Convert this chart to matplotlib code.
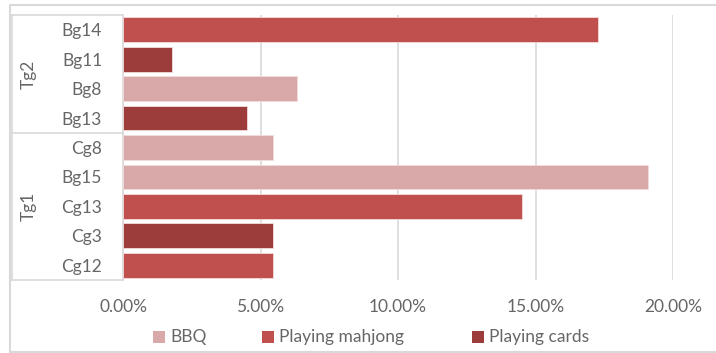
import matplotlib
matplotlib.use("Agg")
import matplotlib.pyplot as plt
from matplotlib.lines import Line2D
from matplotlib.patches import Rectangle
from matplotlib.ticker import FuncFormatter
from matplotlib.transforms import blended_transform_factory

plt.rcParams['font.family'] = ['Lato', 'DejaVu Sans']

# Rows from top to bottom
categories = ["Bg14", "Bg11", "Bg8", "Bg13", "Cg8", "Bg15", "Cg13", "Cg3", "Cg12"]
groups = ["Tg2", "Tg1"]
group_sizes = [4, 5]
activity = ["Playing mahjong", "Playing cards", "BBQ", "Playing cards", "BBQ",
            "BBQ", "Playing mahjong", "Playing cards", "Playing mahjong"]
values = [17.27, 1.78, 6.33, 4.50, 5.45, 19.09, 14.50, 5.45, 5.45]  # percent

series = ["BBQ", "Playing mahjong", "Playing cards"]
colors = {"BBQ": "#D9A8A8", "Playing mahjong": "#C0504D", "Playing cards": "#9C3D3C"}
text_color = "#666666"
grid_color = "#D9D9D9"
fs = 12.5

W, H = 716, 353
fig = plt.figure(figsize=(W / 100, H / 100), dpi=100)
x0, x1, y0, y1 = 123, 673, 15, 280
ax = fig.add_axes([x0 / W, 1 - y1 / H, (x1 - x0) / W, (y1 - y0) / H])

n = len(categories)
ypos = list(range(n))
ax.barh(ypos, [v / 100 for v in values], height=0.84,
        color=[colors[a] for a in activity], edgecolor="#F3DCDC", linewidth=0.6, zorder=3)
ax.set_ylim(n - 0.5, -0.5)
ax.set_xlim(0, 0.20)
ax.set_xticks([0, 0.05, 0.10, 0.15, 0.20])
ax.xaxis.set_major_formatter(FuncFormatter(lambda v, p: f"{v * 100:.2f}%"))
ax.grid(axis="x", color=grid_color, linewidth=1.2, zorder=0)
for s in ["top", "right", "bottom"]:
    ax.spines[s].set_visible(False)
ax.spines["left"].set_color(grid_color)
ax.spines["left"].set_linewidth(1.2)
ax.tick_params(axis="x", length=0, pad=14, labelsize=fs, labelcolor=text_color)
ax.tick_params(axis="y", length=0, pad=15, labelsize=fs, labelcolor=text_color)
ax.set_yticks(ypos)
ax.set_yticklabels(categories)

# Two-level category box
box_left = (12 - x0) / (x1 - x0)
kw = dict(color=grid_color, linewidth=1.2, transform=ax.transAxes, clip_on=False)
ax.add_line(Line2D([box_left, box_left], [0, 1], **kw))
bounds = [0]
for g in group_sizes:
    bounds.append(bounds[-1] + g)
for b in bounds:
    yf = 1 - b / n
    ax.add_line(Line2D([box_left, 0], [yf, yf], **kw))
grp_tr = blended_transform_factory(ax.transAxes, ax.transData)
for g, start, size in zip(groups, bounds[:-1], group_sizes):
    yc = start + size / 2 - 0.5
    ax.text((29 - x0) / (x1 - x0), yc, g, rotation=90, ha="center", va="center",
            fontsize=fs, color=text_color, transform=grp_tr)

# Legend drawn as squares and labels along the bottom
legend_x = [153, 262, 472]
sq = 12
ly = 337
for s, lx in zip(series, legend_x):
    fig.add_artist(Rectangle((lx / W, 1 - (ly + sq / 2) / H), sq / W, sq / H,
                             facecolor=colors[s], edgecolor="none", transform=fig.transFigure))
    fig.text((lx + sq + 5) / W, 1 - ly / H, s, ha="left", va="center",
             fontsize=fs, color=text_color)

# Chart border
fig.add_artist(Line2D([10 / W, 10 / W, 1], [1 - 352 / H, 1 - 5 / H, 1 - 5 / H],
                      color=grid_color, linewidth=1.5, transform=fig.transFigure))
fig.add_artist(Line2D([10 / W, 1], [1 - 352 / H, 1 - 352 / H],
                      color=grid_color, linewidth=1.5, transform=fig.transFigure))

fig.savefig("out.png", dpi=100)
